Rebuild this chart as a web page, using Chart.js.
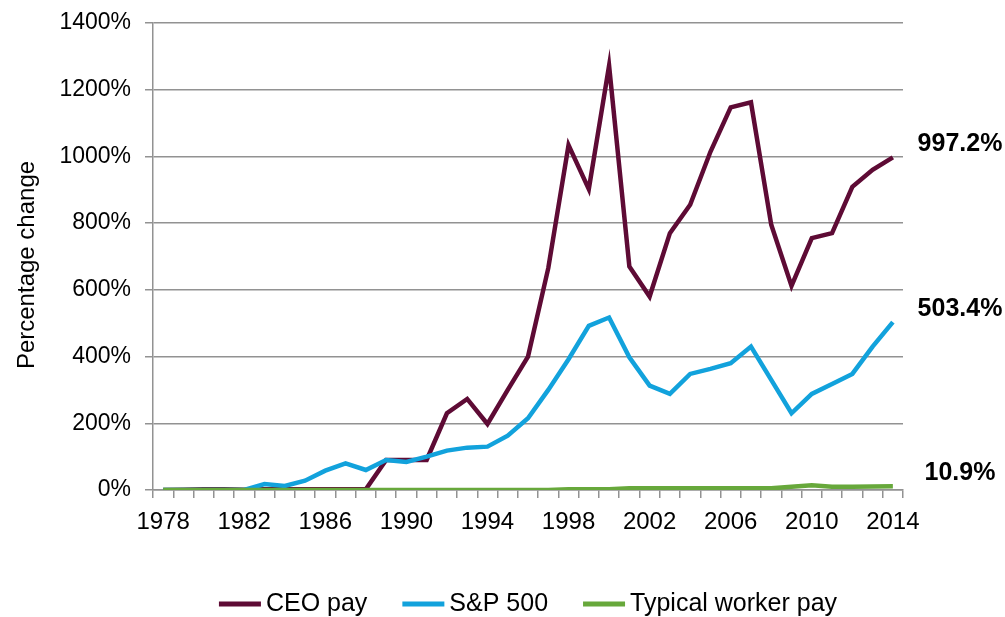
<!DOCTYPE html>
<html>
<head>
<meta charset="utf-8">
<script src="https://cdn.jsdelivr.net/npm/chart.js@4"></script>
<style>
  html, body { margin: 0; padding: 0; background: #fff; }
  #wrap { width: 1005px; height: 617px; position: relative; }
</style>
</head>
<body>
<div id="wrap"><canvas id="payChart"></canvas></div>
<script>
// --------------------------------------------------------------------------
// CEO pay vs S&P 500 vs typical worker pay, cumulative % change since 1978
// --------------------------------------------------------------------------

const years = [
  '1978', '1979', '1980', '1981', '1982', '1983', '1984', '1985', '1986', '1987',
  '1988', '1989', '1990', '1991', '1992', '1993', '1994', '1995', '1996', '1997',
  '1998', '1999', '2000', '2001', '2002', '2003', '2004', '2005', '2006', '2007',
  '2008', '2009', '2010', '2011', '2012', '2013', '2014'
];

const ceoPay = [
  0, 1, 2, 2, 1, 2, 2, 2, 2, 2,
  2, 90, 90, 90, 230, 273, 198, 300, 400, 665,
  1034, 902, 1272, 670, 580, 770, 855, 1014, 1147, 1162,
  795, 612, 755, 770, 909, 960, 997.2
];

const sp500 = [
  0, 0, 0, 0, 0, 18, 12, 28, 58, 80,
  60, 90, 84, 100, 118, 127, 130, 163, 215, 300,
  392, 492, 517, 398, 313, 288, 348, 363, 380, 430,
  330, 230, 288, 318, 348, 430, 503.4
];

const workerPay = [
  0, 0, 0, 0, 0, 0, 0, 0, 0, 0,
  0, 0, 0, 0, 0, 0, 0, 0, 0, 0,
  2, 2, 2, 5, 5, 5, 5, 5, 5, 5,
  5, 10, 14, 10, 10, 10.5, 10.9
];

const yTicks = [0, 200, 400, 600, 800, 1000, 1200, 1400];

const FONT = "'Liberation Sans', Arial, sans-serif";
Chart.defaults.font.family = FONT;
Chart.defaults.color = '#000';

const gridGray = '#929292';

// Final value of each line, written to the right of the plot
const endLabels = {
  id: 'endLabels',
  afterDatasetsDraw(chart) {
    const ctx = chart.ctx;
    ctx.save();
    ctx.font = 'bold 25px ' + FONT;
    ctx.fillStyle = '#000';
    ctx.textAlign = 'center';
    ctx.textBaseline = 'middle';
    chart.data.datasets.forEach((ds, i) => {
      const meta = chart.getDatasetMeta(i);
      const last = meta.data[meta.data.length - 1];
      const val = ds.data[ds.data.length - 1];
      ctx.fillText(val.toFixed(1) + '%', chart.chartArea.right + 57, last.y - 13);
    });
    ctx.restore();
  }
};

// Axis title and an Excel-like legend (line swatch + label, wide gaps)
const extras = {
  id: 'extras',
  afterDraw(chart) {
    const ctx = chart.ctx;
    ctx.save();
    ctx.fillStyle = '#000';

    ctx.font = '24px ' + FONT;
    ctx.translate(27, 265);
    ctx.rotate(-Math.PI / 2);
    ctx.textAlign = 'center';
    ctx.textBaseline = 'middle';
    ctx.fillText('Percentage change', 0, 0);
    ctx.setTransform(1, 0, 0, 1, 0, 0);

    const swatch = 42, gap = 5, spacing = 35, y = 604;
    ctx.font = '25px ' + FONT;
    const items = chart.data.datasets.map(ds => ({ label: ds.label, color: ds.borderColor, w: ctx.measureText(ds.label).width }));
    const total = items.reduce((s, it) => s + swatch + gap + it.w, 0) + spacing * (items.length - 1);
    let x = 528 - total / 2;
    ctx.textAlign = 'left';
    items.forEach(it => {
      ctx.strokeStyle = it.color;
      ctx.lineWidth = 5;
      ctx.beginPath();
      ctx.moveTo(x, y);
      ctx.lineTo(x + swatch, y);
      ctx.stroke();
      ctx.fillText(it.label, x + swatch + gap, y);
      x += swatch + gap + it.w + spacing;
    });
    ctx.restore();
  }
};

new Chart(document.getElementById('payChart'), {
  type: 'line',
  data: {
    labels: years,
    datasets: [
      { label: 'CEO pay', data: ceoPay, borderColor: '#5E0B35', backgroundColor: '#5E0B35', order: 2 },
      { label: 'S&P 500', data: sp500, borderColor: '#12A2DC', backgroundColor: '#12A2DC', order: 1 },
      { label: 'Typical worker pay', data: workerPay, borderColor: '#67A83B', backgroundColor: '#67A83B', order: 0 }
    ]
  },
  options: {
    responsive: true, maintainAspectRatio: false,
    animation: false,
    layout: { padding: { top: 23, right: 102, bottom: 0, left: 0 } },
    elements: {
      line: { borderWidth: 4.5, tension: 0 },
      point: { radius: 0, hoverRadius: 0 }
    },
    plugins: {
      legend: { display: false },
      tooltip: { enabled: false }
    },
    scales: {
      x: {
        offset: true,
        grid: { offset: true, drawOnChartArea: false, color: gridGray, lineWidth: 1.5, tickLength: 8 },
        border: { color: gridGray, width: 1.5 },
        ticks: {
          autoSkip: false, maxRotation: 0, padding: 10,
          font: { size: 24 },
          callback: (val, index) => index % 4 === 0 ? years[index] : ''
        },
        afterFit(scale) { scale.height = 127; }
      },
      y: {
        min: 0, max: 1400,
        afterBuildTicks(scale) { scale.ticks = yTicks.map(v => ({ value: v })); },
        grid: { color: gridGray, lineWidth: 1.5, tickLength: 8 },
        border: { color: gridGray, width: 1.5 },
        ticks: { padding: 14, font: { size: 23 }, callback: v => v + '%' },
        afterFit(scale) { scale.width = 153; scale.paddingTop = 0; scale.paddingBottom = 0; }
      }
    }
  },
  plugins: [endLabels, extras]
});
</script>
</body>
</html>
